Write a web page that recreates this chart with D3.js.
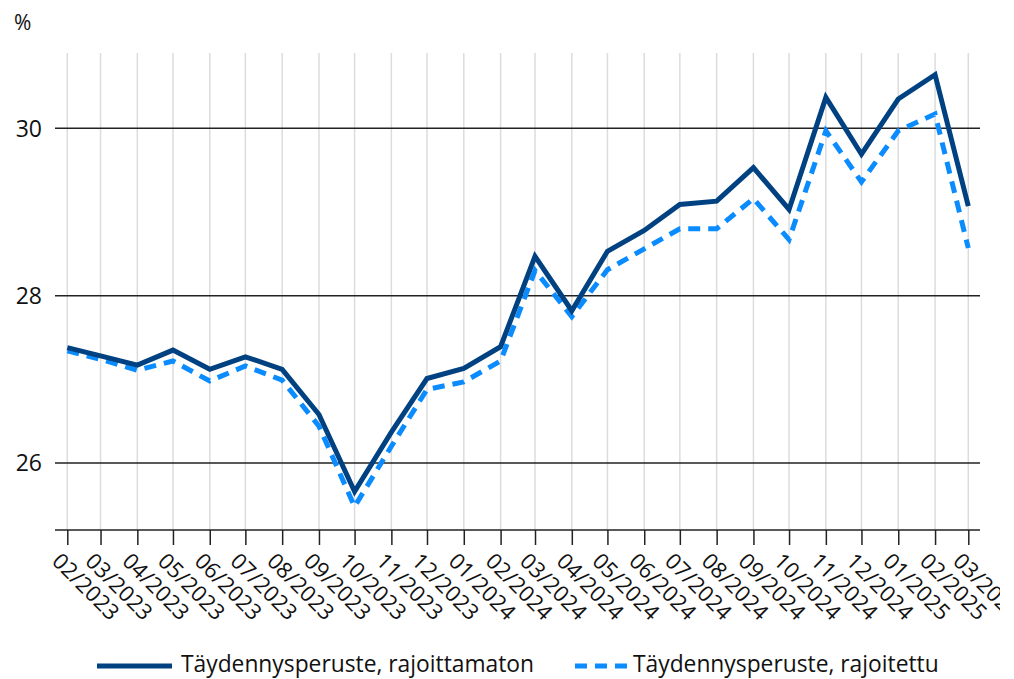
<!DOCTYPE html>
<html>
<head>
<meta charset="utf-8">
<script src="https://cdn.jsdelivr.net/npm/d3@7/dist/d3.min.js"></script>
<style>
  html, body { margin: 0; padding: 0; background: #fff; }
  svg { display: block; font-family: "Open Sans", sans-serif; }
</style>
</head>
<body>
<svg id="chart" width="1000" height="679"></svg>
<script>
const categories = ["02/2023","03/2023","04/2023","05/2023","06/2023","07/2023","08/2023","09/2023","10/2023","11/2023","12/2023","01/2024","02/2024","03/2024","04/2024","05/2024","06/2024","07/2024","08/2024","09/2024","10/2024","11/2024","12/2024","01/2025","02/2025","03/2025"];
const unrestricted = [27.38,27.28,27.17,27.35,27.12,27.27,27.12,26.58,25.66,26.37,27.01,27.13,27.39,28.47,27.82,28.53,28.78,29.09,29.13,29.53,29.03,30.37,29.69,30.35,30.64,29.07];
const restricted  = [27.34,27.24,27.11,27.22,26.98,27.16,26.99,26.44,25.48,26.20,26.88,26.97,27.22,28.30,27.75,28.31,28.56,28.80,28.80,29.16,28.67,29.97,29.36,29.97,30.17,28.57];
const yTicks = [26, 28, 30];
const seriesNames = ["Täydennysperuste, rajoittamaton", "Täydennysperuste, rajoitettu"];
const unitLabel = "%";

(function () {
const parse = d3.utcParse("%m/%Y");
const dates = categories.map(parse);

const svg = d3.select("#chart");
const pLeft = 55, pRight = 980, pTop = 53, pBottom = 530;
const x = d3.scaleUtc().domain([dates[0], dates[dates.length - 1]]).range([67.3, 968.3]);
const y = d3.scaleLinear().domain([25.2, 30.9]).range([pBottom, pTop]);

// vertical light gridlines
svg.append("g").selectAll("line").data(dates).join("line")
  .attr("x1", d => x(d)).attr("x2", d => x(d))
  .attr("y1", pTop).attr("y2", pBottom)
  .attr("stroke", "#dcdcdc").attr("stroke-width", 1.5);

// horizontal gridlines
svg.append("g").selectAll("line").data(yTicks).join("line")
  .attr("x1", pLeft).attr("x2", pRight)
  .attr("y1", d => y(d)).attr("y2", d => y(d))
  .attr("stroke", "#222").attr("stroke-width", 1.5);

// y labels
svg.append("g").selectAll("text").data(yTicks).join("text")
  .attr("x", 42).attr("y", d => y(d)).attr("dy", "0.36em")
  .attr("text-anchor", "end").attr("font-size", 23).attr("fill", "#111")
  .text(d => d);

svg.append("text").attr("x", 14).attr("y", 30).attr("font-size", 21).attr("fill", "#111").text(unitLabel);

// x axis
const xAxis = d3.axisBottom(x).tickValues(dates).tickSize(15).tickFormat("");
const gx = svg.append("g").attr("transform", `translate(0,${pBottom})`).call(xAxis);
gx.select(".domain").attr("d", `M${pLeft},0H${pRight}`).attr("stroke", "#222").attr("stroke-width", 1.5);
gx.selectAll(".tick line").attr("stroke", "#222").attr("stroke-width", 1.5);

svg.append("g").selectAll("text").data(dates).join("text")
  .attr("transform", (d) => `translate(${x(d) - 11},557) rotate(45)`)
  .attr("dy", "0.35em").attr("font-size", 22).attr("fill", "#111")
  .text((d, i) => categories[i]);

// lines
const line = d3.line().x((d, i) => x(dates[i])).y(d => y(d));
svg.append("path").datum(restricted).attr("d", line)
  .attr("fill", "none").attr("stroke", "#0a8cff").attr("stroke-width", 5)
  .attr("stroke-dasharray", "12,8");
svg.append("path").datum(unrestricted).attr("d", line)
  .attr("fill", "none").attr("stroke", "#004281").attr("stroke-width", 5)
  .attr("stroke-linejoin", "miter");

// legend
const ly = 665;
svg.append("line").attr("x1", 97).attr("x2", 172).attr("y1", ly + 1).attr("y2", ly + 1)
  .attr("stroke", "#004281").attr("stroke-width", 5);
svg.append("text").attr("x", 181).attr("y", ly).attr("dy", "0.3em").attr("font-size", 22.8).attr("fill", "#111").text(seriesNames[0]);
svg.append("line").attr("x1", 575).attr("x2", 628).attr("y1", ly + 1).attr("y2", ly + 1)
  .attr("stroke", "#0a8cff").attr("stroke-width", 5).attr("stroke-dasharray", "12,8");
svg.append("text").attr("x", 633).attr("y", ly).attr("dy", "0.3em").attr("font-size", 22.8).attr("fill", "#111").text(seriesNames[1]);
})();
</script>
</body>
</html>
